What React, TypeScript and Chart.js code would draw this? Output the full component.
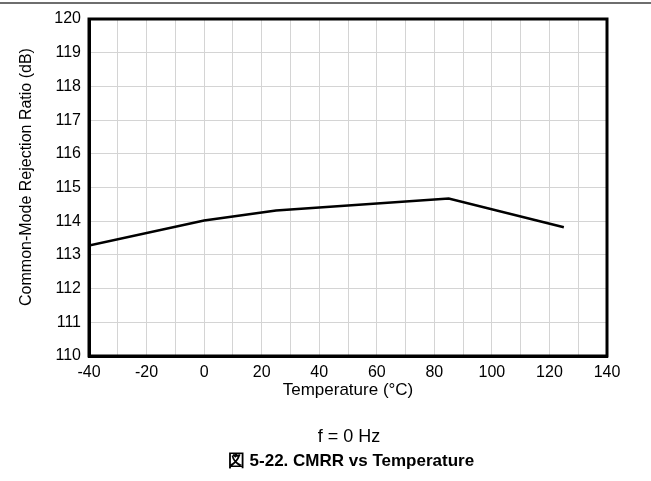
import React, { useEffect, useRef } from "react";
import { Chart, registerables } from "chart.js";

Chart.register(...registerables);

const temperatures = [-40, 0, 25, 85, 125];
const cmrr = [113.28, 114.02, 114.32, 114.67, 113.82];

const xTickMin = -40;
const xTickMax = 140;
const yTickMin = 110;
const yTickMax = 120;

const xTitle = "Temperature (°C)";
const yTitle = "Common-Mode Rejection Ratio (dB)";
const conditionText = "f = 0 Hz";
const captionText = "図 5-22. CMRR vs Temperature";

const FONT = "'Liberation Sans', Arial, sans-serif";

export default function App() {
  const ref = useRef<HTMLCanvasElement | null>(null);

  useEffect(() => {
    if (!ref.current) return;
    const chart = new Chart(ref.current, {
      type: "line",
      data: {
        datasets: [
          {
            data: temperatures.map((t, i) => ({ x: t, y: cmrr[i] })),
            borderColor: "#000000",
            borderWidth: 2.5,
            pointRadius: 0,
            tension: 0,
            fill: false,
          },
        ],
      },
      options: {
        animation: false,
        responsive: false,
        maintainAspectRatio: false,
        layout: { padding: { left: 0, top: 19, right: 44, bottom: 80 } },
        plugins: { legend: { display: false }, tooltip: { enabled: false } },
        scales: {
          x: {
            type: "linear",
            min: xTickMin,
            max: xTickMax,
            ticks: {
              stepSize: 10,
              autoSkip: false,
              maxRotation: 0,
              padding: 7,
              color: "#000",
              font: { family: FONT, size: 16 },
              callback: (v: any) => (Number(v) % 20 === 0 ? String(v) : ""),
            },
            grid: { color: "#d4d4d4", lineWidth: 1, drawTicks: false },
            border: { color: "#000", width: 3 },
            title: {
              display: true,
              text: xTitle,
              color: "#000",
              font: { family: FONT, size: 17 },
              padding: { top: 0, bottom: 0 },
            },
            afterFit: (s: any) => {
              s.height = 45;
            },
          },
          y: {
            type: "linear",
            min: yTickMin,
            max: yTickMax,
            ticks: {
              stepSize: 1,
              padding: 8,
              color: "#000",
              font: { family: FONT, size: 16 },
            },
            grid: { color: "#d4d4d4", lineWidth: 1, drawTicks: false },
            border: { color: "#000", width: 3 },
            title: { display: false, text: yTitle },
            afterFit: (s: any) => {
              s.width = 89;
            },
          },
        },
      },
      plugins: [
        {
          id: "frame",
          afterDraw(c: any) {
            const { ctx, chartArea } = c;
            ctx.save();
            ctx.strokeStyle = "#000";
            ctx.lineWidth = 3;
            ctx.strokeRect(
              chartArea.left,
              chartArea.top,
              chartArea.right - chartArea.left,
              chartArea.bottom - chartArea.top
            );
            ctx.translate(27, 177);
            ctx.rotate(-Math.PI / 2);
            ctx.fillStyle = "#000";
            ctx.font = `16px ${FONT}`;
            ctx.textAlign = "center";
            ctx.textBaseline = "middle";
            ctx.fillText(yTitle, 0, 0);
            ctx.restore();
          },
        },
      ],
    });
    return () => chart.destroy();
  }, []);

  return (
    <div
      style={{
        position: "absolute",
        left: 0,
        top: 0,
        width: 651,
        height: 481,
        background: "#fff",
        fontFamily: FONT,
        overflow: "hidden",
      }}
    >
      <div
        style={{
          position: "absolute",
          left: 0,
          top: 2,
          width: 651,
          height: 2,
          background: "#6e6e6e",
        }}
      />
      <canvas
        ref={ref}
        width={651}
        height={481}
        style={{ position: "absolute", left: 0, top: 0, width: 651, height: 481 }}
      />
      <div
        style={{
          position: "absolute",
          left: 0,
          width: 698,
          top: 425,
          textAlign: "center",
          fontSize: 18,
          lineHeight: "22px",
          color: "#000",
        }}
      >
        {conditionText}
      </div>
      <div
        style={{
          position: "absolute",
          left: 0,
          width: 702,
          top: 450,
          textAlign: "center",
          fontSize: 17,
          lineHeight: "22px",
          fontWeight: "bold",
          color: "#000",
        }}
      >
        {captionText}
      </div>
    </div>
  );
}
